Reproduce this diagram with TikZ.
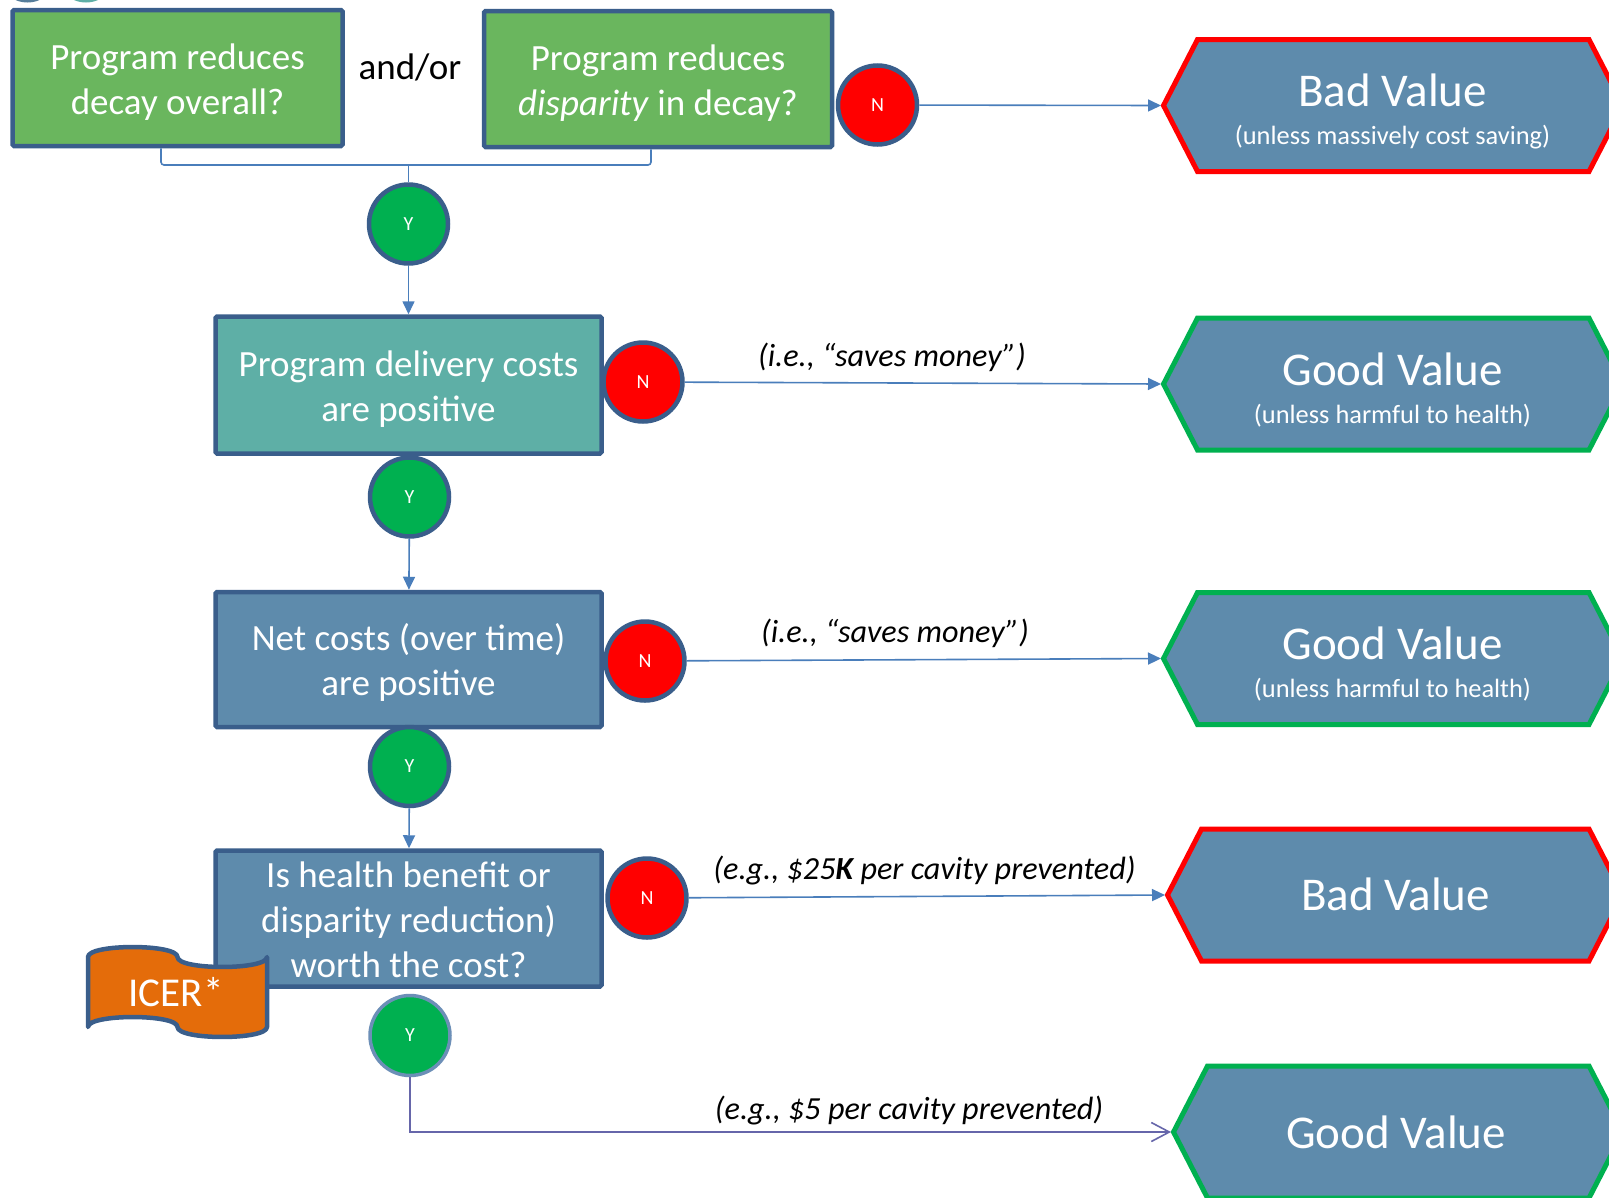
\documentclass[tikz,border=0pt]{standalone}
\usepackage{fontspec}
\setmainfont{Carlito}
\usetikzlibrary{arrows.meta,calc}

\definecolor{boxline}{RGB}{58,94,139}
\definecolor{conn}{RGB}{74,126,187}
\definecolor{connb}{RGB}{102,102,170}
\definecolor{qgreen}{RGB}{106,182,94}
\definecolor{qteal}{RGB}{94,175,166}
\definecolor{qblue}{RGB}{94,139,172}
\definecolor{yesgreen}{RGB}{0,176,80}
\definecolor{nored}{RGB}{255,0,0}
\definecolor{icer}{RGB}{228,108,10}
\definecolor{ring}{RGB}{108,143,183}

\tikzset{
  qbox/.style={draw=boxline, line width=4.5pt, rounded corners=1.5pt,
    minimum width=386pt, minimum height=135pt, inner sep=0pt},
  boxtext/.style={inner sep=0pt, text=white, align=center,
    font=\fontsize{37}{45}\selectfont},
  yesdot/.style={circle, draw=boxline, line width=4.5pt, fill=yesgreen,
    minimum size=79pt, inner sep=0pt, text=white,
    font=\fontsize{20}{24}\selectfont},
  nodot/.style={yesdot, fill=nored},
  flowarrow/.style={draw=conn, line width=1.6pt,
    -{Triangle[length=13pt,width=12pt]}},
  bracketline/.style={draw=conn, line width=1.6pt, rounded corners=3pt},
  lastarrow/.style={draw=connb, line width=1.6pt,
    -{Straight Barb[length=18pt,width=19pt,line width=1.6pt]}},
  hexshape/.style={fill=qblue, line width=5pt, line join=miter},
  hexbig/.style={text=white, inner sep=0pt, font=\fontsize{47}{56}\selectfont},
  hexsmall/.style={text=white, inner sep=0pt, font=\fontsize{26.4}{31}\selectfont},
  lbl/.style={inner sep=0pt, font=\fontsize{32.2}{38}\selectfont\itshape},
  icerflag/.style={draw=boxline, line width=4.5pt, fill=icer, line join=round}
}

% outcome hexagon: #1 name of the tip coordinate, #2 tip x, #3 centre y, #4 border colour
\newcommand\valuehex[4]{%
  \draw[hexshape, draw=#4] (#2,#3) -- ++(34,-66) -- (1589,{#3-66})
    -- ++(34,66) -- ++(-34,66) -- ({#2+34},{#3+66}) -- cycle;
  \coordinate (#1) at ({#2-2.5},#3);
}

\begin{document}
\begin{tikzpicture}[x=1pt,y=-1pt]
\useasboundingbox (0,0) rectangle (1609,1197);
\fill[white] (0,0) rectangle (1609,1197);
\clip (0,0) rectangle (1609,1197);

% shapes cut by the upper edge
\node[circle, fill=qblue!90!black, minimum size=60pt] (edgeA) at (27.5,-27.5) {};
\node[circle, fill=qteal, minimum size=60pt] (edgeB) at (86,-27.5) {};

% question boxes
\node[qbox, fill=qgreen, minimum width=330pt, minimum height=136pt] (b1) at (177.5,78) {};
\node[boxtext] (b1t) at ([yshift=-4pt]b1.center) {Program reduces\\decay overall?};
\node[qbox, fill=qgreen, minimum width=348pt, minimum height=136pt] (b2) at (658,79) {};
\node[boxtext] (b2t) at ([yshift=-4pt]b2.center) {Program reduces\\\textit{disparity} in decay?};
\node[anchor=base, inner sep=0pt, font=\fontsize{37}{45}\selectfont] (andor) at (410,79) {and/or};

\node[qbox, fill=qteal, minimum height=137pt] (b3) at (408.5,385) {};
\node[boxtext] (b3t) at ([yshift=-4pt]b3.center) {Program delivery costs\\are positive};
\node[qbox, fill=qblue] (b4) at (408.5,659.5) {};
\node[boxtext] (b4t) at ([yshift=-3pt]b4.center) {Net costs (over time)\\are positive};
\node[qbox, fill=qblue, minimum height=136pt] (b5) at (408.5,918.5) {};
\node[boxtext] (b5t) at ([yshift=-1pt]b5.center) {Is health benefit or\\disparity reduction)\\worth the cost?};

% ICER flag over the lower box
\draw[icerflag] (88,957) .. controls (88,943.7) and (177.5,943.7) .. (177.5,957)
  .. controls (177.5,970.3) and (267,970.3) .. (267,957) -- (267,1027)
  .. controls (267,1040.3) and (177.5,1040.3) .. (177.5,1027)
  .. controls (177.5,1013.7) and (88,1013.7) .. (88,1027) -- cycle;
\node[text=white, inner sep=0pt, font=\fontsize{41}{48}\selectfont] (icertext) at (176,992) {ICER*};

% yes / no markers
\node[nodot] (n1) at (877.5,105) {N};
\node[nodot] (n2) at (643,382) {N};
\node[nodot] (n3) at (645,661) {N};
\node[nodot] (n4) at (647,898) {N};
\node[yesdot] (y1) at (408.5,224) {Y};
\node[yesdot] (y2) at (409.5,497) {Y};
\node[yesdot] (y3) at (409.5,766.5) {Y};
\node[yesdot, draw=ring, line width=3.5pt, minimum size=80pt] (y4) at (410,1035.5) {Y};

% outcomes
\valuehex{t1}{1163.5}{105.5}{nored}
\valuehex{t2}{1163.5}{384}{yesgreen}
\valuehex{t3}{1163.5}{658.5}{yesgreen}
\valuehex{t4}{1167.5}{895}{nored}
\valuehex{t5}{1173.5}{1132}{yesgreen}

\node[hexbig, anchor=base] (v1) at (1392.5,106) {Bad Value};
\node[hexsmall, anchor=base] (s1) at (1392.5,144) {(unless massively cost saving)};
\node[hexbig, anchor=base] (v2) at (1392.5,385) {Good Value};
\node[hexsmall, anchor=base] (s2) at (1392.5,423) {(unless harmful to health)};
\node[hexbig, anchor=base] (v3) at (1392.5,659) {Good Value};
\node[hexsmall, anchor=base] (s3) at (1392.5,697) {(unless harmful to health)};
\node[hexbig, anchor=base] (v4) at (1395.5,910) {Bad Value};
\node[hexbig, anchor=base] (v5) at (1396,1148) {Good Value};

% connectors
\coordinate (join) at (408.5,165);
\draw[bracketline] ([xshift=-16.5pt]b1.south) |- (join) -| ([xshift=-7pt]b2.south);
\draw[bracketline] (join) -- (y1.north);

\draw[flowarrow] (y1) -- (b3);
\draw[flowarrow] (y2) -- (b4);
\draw[flowarrow] (y3) -- (b5);

\draw[flowarrow] (n1) -- (t1);
\draw[flowarrow] (n2) -- (t2);
\draw[flowarrow] (n3) -- (t3);
\draw[flowarrow] (n4) -- (t4);
\draw[lastarrow] (y4) |- (t5);

% arrow labels
\node[lbl, anchor=base] (l1) at (892,366.3) {(i.e., “saves money”)};
\node[lbl, anchor=base] (l2) at (895,642.5) {(i.e., “saves money”)};
\node[lbl, anchor=base] (l3) at (924.5,879.7) {(e.g., \$25\textbf{K} per cavity prevented)};
\node[lbl, anchor=base] (l4) at (909,1119) {(e.g., \$5 per cavity prevented)};
\end{tikzpicture}
\end{document}
